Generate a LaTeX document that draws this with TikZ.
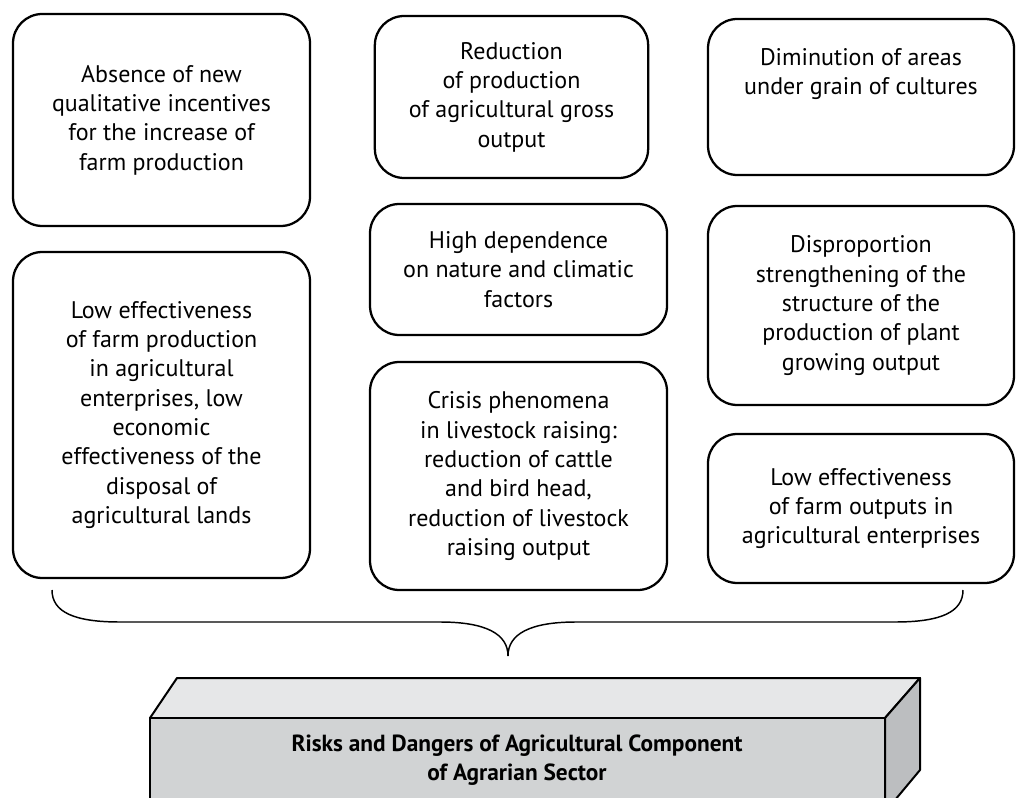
\documentclass[tikz,border=0pt]{standalone}
\usepackage{fontspec}
\setmainfont{PT Sans}
\usepackage{tikz}
\usetikzlibrary{positioning, calc}
\definecolor{topgray}{HTML}{E6E7E8}
\definecolor{frontgray}{HTML}{D1D3D4}
\definecolor{sidegray}{HTML}{BCBEC0}
\tikzstyle{riskbox} = [draw, line width=1.7pt, rounded corners=22pt, align=center, inner sep=0pt, font=\fontsize{18}{22}\selectfont]
\tikzstyle{leftcol} = [riskbox, minimum width=222.75pt]
\tikzstyle{midcol} = [riskbox, minimum width=222.75pt]
\tikzstyle{rightcol} = [riskbox, minimum width=229.5pt]
\tikzstyle{line} = [draw, line width=1.1pt]
\tikzstyle{face} = [draw, line width=1.5pt, line join=round]

\begin{document}
\begin{tikzpicture}[x=0.75pt, y=-0.75pt]
\useasboundingbox (0,0) rectangle (1017,798);

% left column
\node [leftcol, minimum height=159pt] (absence) at (161.5,120) {Absence of new\\qualitative incentives\\for the increase of\\farm production};
\node [leftcol, minimum height=244.5pt] (loweff) at (161.5,415) {Low effectiveness\\of farm production\\in agricultural\\enterprises, low\\economic\\effectiveness of the\\disposal of\\agricultural lands};

% middle column
\node [midcol, minimum width=205pt, minimum height=121.5pt] (reduction) at (511.5,97) {Reduction\\of production\\of agricultural gross\\output};
\node [midcol, minimum height=98.25pt] (dependence) at (518.5,269.5) {High dependence\\on nature and climatic\\factors};
\node [midcol, minimum height=171pt] (crisis) at (518.5,476) {Crisis phenomena\\in livestock raising:\\reduction of cattle\\and bird head,\\reduction of livestock\\raising output};

% right column
\node [rightcol, minimum height=117pt] (diminution) at (861,97) {Diminution of areas\\under grain of cultures\\[16pt]\mbox{}};
\node [rightcol, minimum height=149.25pt] (disprop) at (861,305.5) {Disproportion\\strengthening of the\\structure of the\\production of plant\\growing output};
\node [rightcol, minimum height=111.75pt] (outputs) at (861,508.5) {Low effectiveness\\of farm outputs in\\agricultural enterprises};

% brace
\coordinate (bl) at (52,590);
\coordinate (br) at (963,590);
\coordinate (tip) at (508,656);
\path [line] (bl) .. controls (52,612) and (74,622) .. (120,622) -- (440,622) .. controls (486,622) and (508,634) .. (tip);
\path [line] (br) .. controls (963,612) and (941,622) .. (895,622) -- (576,622) .. controls (530,622) and (508,634) .. (tip);

% 3d box
\path [face, fill=topgray] (150,718) -- (177,678) -- (920,678) -- (885,718) -- cycle;
\path [face, fill=sidegray] (885,718) -- (920,678) -- (920,770) -- (885,812) -- cycle;
\path [face, fill=frontgray] (150,718) rectangle (885,812);
\node [font=\fontsize{17.5}{21.5}\selectfont\bfseries, align=center] (risks) at (517,760) {Risks and Dangers of Agricultural Component\\of Agrarian Sector};
\end{tikzpicture}
\end{document}
